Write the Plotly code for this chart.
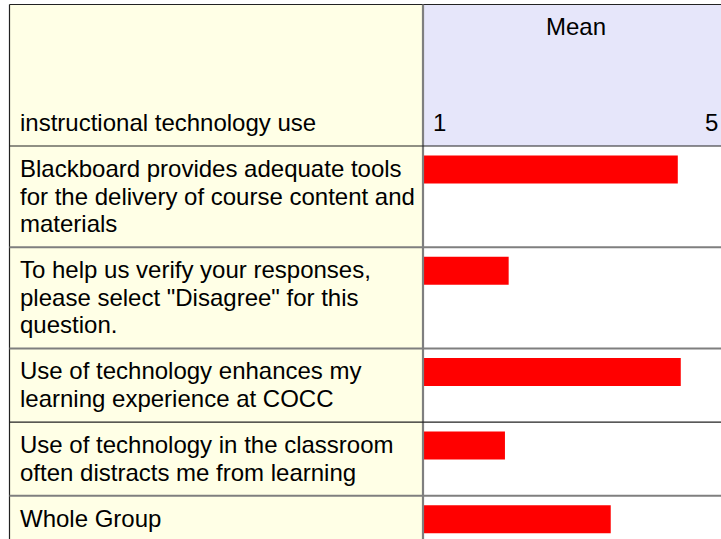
import plotly.graph_objects as go

# survey items (row labels, line breaks as in the table) and their means
labels = [
    "Blackboard provides adequate tools\nfor the delivery of course content and\nmaterials",
    "To help us verify your responses,\nplease select \"Disagree\" for this\nquestion.",
    "Use of technology enhances my\nlearning experience at COCC",
    "Use of technology in the classroom\noften distracts me from learning",
    "Whole Group",
]
means = [4.42, 2.15, 4.46, 2.10, 3.52]
scale_ticks = [1, 5]
header_label = "instructional technology use"
column_title = "Mean"
toggle_text = "[Hide Histogram]"

# geometry in page pixels
W, H = 721, 539
LEFT, SPLIT = 9.5, 423
TOP, HEADER_BOTTOM = 4.5, 146
LINE_H, PAD = 27.5, 18.7
FONT = dict(family="Liberation Sans, Arial, sans-serif", size=24, color="#000000")

def px(x):
    return x / W

row_tops = []
y = HEADER_BOTTOM
for lab in labels:
    row_tops.append(y)
    y += len(lab.split("\n")) * LINE_H + PAD

fig = go.Figure()
fig.add_trace(go.Bar(
    x=[m - scale_ticks[0] for m in means],
    base=scale_ticks[0],
    y=[t + 9.5 + 14 for t in row_tops],
    width=28,
    orientation="h",
    marker=dict(color="#ff0000", line=dict(width=0)),
    hoverinfo="skip",
))

shapes = [
    # left column background
    dict(type="rect", xref="paper", yref="y", x0=px(LEFT), x1=px(SPLIT), y0=TOP, y1=H + 10,
         fillcolor="#ffffe6", line=dict(width=0), layer="below"),
    # header cell of the mean column
    dict(type="rect", xref="paper", yref="y", x0=px(SPLIT), x1=1.02, y0=TOP, y1=HEADER_BOTTOM,
         fillcolor="#e6e6fa", line=dict(width=0), layer="below"),
    # borders
    dict(type="line", xref="paper", yref="y", x0=px(LEFT), x1=1.02, y0=TOP, y1=TOP,
         line=dict(color="#222222", width=1.2)),
    dict(type="line", xref="paper", yref="y", x0=px(LEFT), x1=px(LEFT), y0=TOP, y1=H + 10,
         line=dict(color="#222222", width=1.2)),
    dict(type="line", xref="paper", yref="y", x0=px(SPLIT), x1=px(SPLIT), y0=TOP, y1=H + 10,
         line=dict(color="#7f7f7f", width=2.2)),
    dict(type="line", xref="paper", yref="y", x0=px(LEFT), x1=1.02, y0=HEADER_BOTTOM, y1=HEADER_BOTTOM,
         line=dict(color="#222222", width=1.2)),
]
line_colors = ["#7f7f7f", "#7f7f7f", "#222222", "#7f7f7f"]
for i, t in enumerate(row_tops[1:]):
    c = line_colors[i]
    shapes.append(dict(type="line", xref="paper", yref="y", x0=px(LEFT), x1=1.02, y0=t, y1=t,
                       line=dict(color=c, width=2 if c == "#7f7f7f" else 1.2)))

annotations = []

def text(x, y, s, anchor="left"):
    annotations.append(dict(xref="paper", yref="y", x=px(x), y=y, text=s, showarrow=False,
                            xanchor=anchor, yanchor="middle", font=FONT, borderpad=0))

for lab, t in zip(labels, row_tops):
    for j, line in enumerate(lab.split("\n")):
        text(19, t + 22.5 + j * LINE_H, line)

text(19, 122.5, header_label)
text(576, 26.8, column_title, "center")
text(432, 122.8, str(scale_ticks[0]))
text(719, 122.8, str(scale_ticks[1]), "right")
text(10, -9.2, toggle_text)

fig.update_layout(
    width=W, height=H,
    margin=dict(l=0, r=0, t=0, b=0),
    paper_bgcolor="white", plot_bgcolor="rgba(0,0,0,0)",
    showlegend=False,
    shapes=shapes, annotations=annotations,
    xaxis=dict(domain=[px(SPLIT), 1], range=scale_ticks, visible=False, fixedrange=True),
    yaxis=dict(range=[H, 0], visible=False, fixedrange=True),
)

fig.write_html("out.html", config={"displayModeBar": False},
               post_script="document.body.style.margin='0px';")
